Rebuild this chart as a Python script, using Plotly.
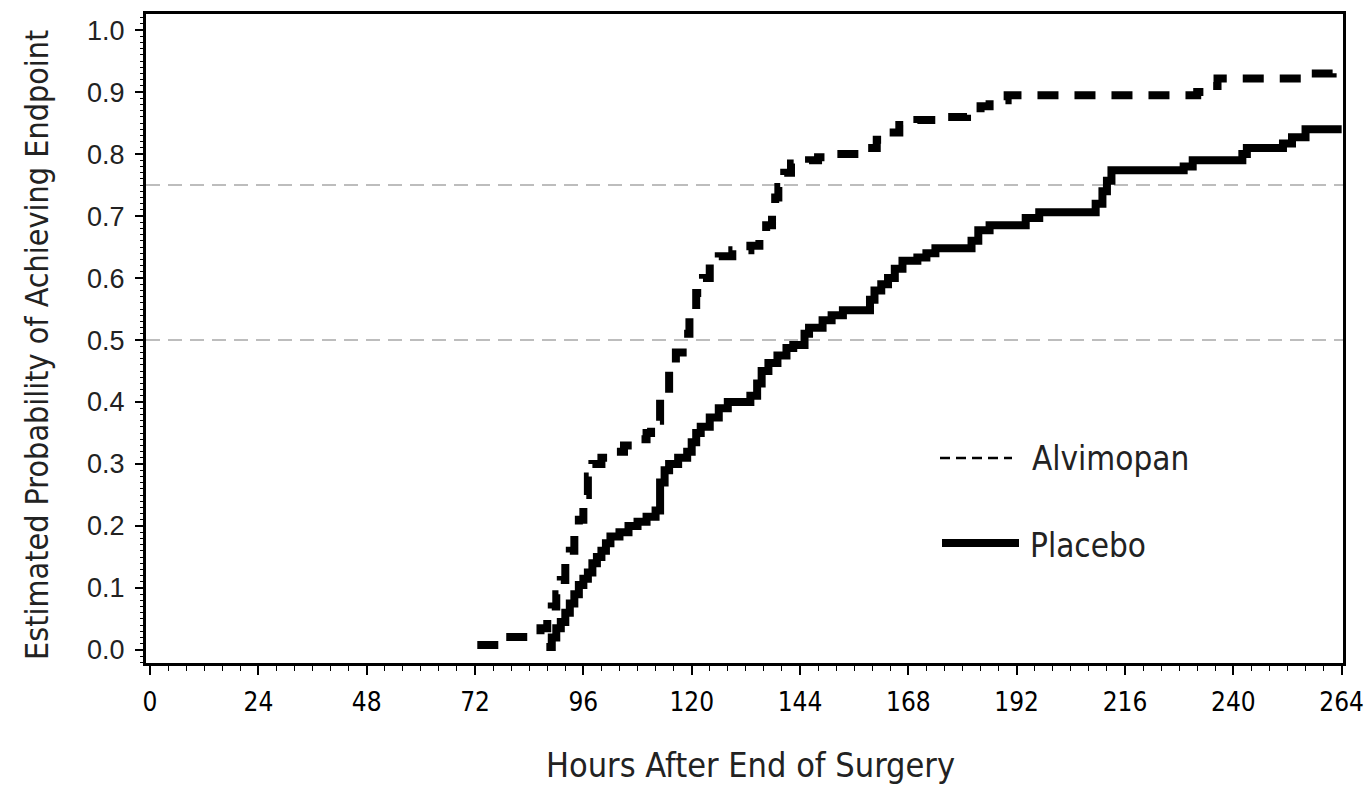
import plotly.graph_objects as go

# Kaplan-Meier style step data (hours after surgery, estimated probability)
alvimopan_hours = [72.5, 78, 86.5, 88, 89, 90, 91, 92, 93, 94, 95, 96, 97, 98, 100, 102, 105, 107,
                   110, 111, 113, 115, 116.5, 118, 119.5, 121, 122.5, 124, 126, 129, 133, 135, 136.5,
                   137.8, 138.5, 139.2, 140.5, 142, 146, 148, 152, 158, 161, 163, 166, 170, 176, 181,
                   184, 186, 190, 232, 234, 236.5, 256, 262, 264]
alvimopan_prob = [0.008, 0.021, 0.035, 0.05, 0.07, 0.09, 0.113, 0.14, 0.16, 0.19, 0.21, 0.25, 0.28,
                  0.30, 0.31, 0.32, 0.33, 0.34, 0.35, 0.37, 0.41, 0.45, 0.48, 0.51, 0.54, 0.576, 0.60,
                  0.624, 0.635, 0.645, 0.652, 0.665, 0.685, 0.705, 0.73, 0.747, 0.77, 0.785, 0.79,
                  0.795, 0.80, 0.81, 0.823, 0.835, 0.847, 0.855, 0.86, 0.866, 0.877, 0.887, 0.895,
                  0.90, 0.91, 0.922, 0.93, 0.935, 0.935]

placebo_hours = [87.8, 89, 90, 91, 92, 93, 94, 95, 96, 97, 98, 99, 100, 101, 102, 104, 106, 108, 110,
                 112, 113, 114, 115, 117, 119, 120, 121, 122, 124, 126, 128, 133, 134.5, 135.5, 137,
                 139, 141, 142.5, 145, 146, 149, 151, 153.5, 159.5, 160.5, 162, 163.5, 165, 166.7,
                 170, 172, 174, 182, 183.5, 186, 194, 197, 209.5, 211, 212, 213, 229, 231, 242, 243,
                 251, 253, 256, 264]
placebo_prob = [0.005, 0.02, 0.035, 0.045, 0.06, 0.075, 0.09, 0.105, 0.115, 0.125, 0.14, 0.15, 0.16,
                0.172, 0.183, 0.19, 0.2, 0.207, 0.215, 0.225, 0.27, 0.29, 0.30, 0.31, 0.32, 0.335,
                0.35, 0.36, 0.375, 0.39, 0.40, 0.41, 0.43, 0.45, 0.463, 0.475, 0.487, 0.492, 0.51,
                0.52, 0.532, 0.54, 0.548, 0.565, 0.58, 0.59, 0.60, 0.615, 0.628, 0.633, 0.64, 0.648,
                0.66, 0.677, 0.685, 0.697, 0.706, 0.72, 0.74, 0.757, 0.774, 0.78, 0.79, 0.80, 0.81,
                0.817, 0.827, 0.84, 0.84]

x_ticks = [0, 24, 48, 72, 96, 120, 144, 168, 192, 216, 240, 264]
y_ticks = [0.0, 0.1, 0.2, 0.3, 0.4, 0.5, 0.6, 0.7, 0.8, 0.9, 1.0]
y_tick_labels = ["0.0", "0.1", "0.2", "0.3", "0.4", "0.5", "0.6", "0.7", "0.8", "0.9", "1.0"]
ref_levels = [0.5, 0.75]
series_names = ["Alvimopan", "Placebo"]
x_title = "Hours After End of Surgery"
y_title = "Estimated Probability of Achieving Endpoint"

NARROW = "DejaVu Sans Condensed, Liberation Sans Narrow, sans-serif"
WIDE = "Liberation Sans, Arial, sans-serif"

# plot-area pixel box
L, R, T, B = 146, 1343, 14, 663
W, H = 1364, 790


def px_to_paper_x(px):
    return (px - L) / (R - L)


def px_to_paper_y(py):
    return (B - py) / (B - T)


fig = go.Figure()

fig.add_trace(go.Scatter(
    x=alvimopan_hours, y=alvimopan_prob, mode="lines", line_shape="hv",
    name=series_names[0], line=dict(color="black", width=8, dash="21px,16px"),
    showlegend=False))
fig.add_trace(go.Scatter(
    x=placebo_hours, y=placebo_prob, mode="lines", line_shape="hv",
    name=series_names[1], line=dict(color="black", width=8),
    showlegend=False))

for lvl in ref_levels:
    fig.add_shape(type="line", xref="paper", x0=0, x1=1, yref="y", y0=lvl, y1=lvl,
                  line=dict(color="#a8a8a8", width=1.5, dash="14px,8px"), layer="below")

# Legend drawn manually
fig.add_shape(type="line", xref="paper", yref="paper",
              x0=px_to_paper_x(940), x1=px_to_paper_x(1012),
              y0=px_to_paper_y(458), y1=px_to_paper_y(458),
              line=dict(color="black", width=2.5, dash="10px,6px"))
fig.add_shape(type="line", xref="paper", yref="paper",
              x0=px_to_paper_x(942), x1=px_to_paper_x(1019),
              y0=px_to_paper_y(543), y1=px_to_paper_y(543),
              line=dict(color="black", width=8))
fig.add_annotation(xref="paper", yref="paper", x=px_to_paper_x(1030), y=px_to_paper_y(458),
                   text=series_names[0], showarrow=False, xanchor="left", yanchor="middle",
                   font=dict(family=NARROW, size=33, color="#222"))
fig.add_annotation(xref="paper", yref="paper", x=px_to_paper_x(1028), y=px_to_paper_y(545),
                   text=series_names[1], showarrow=False, xanchor="left", yanchor="middle",
                   font=dict(family=NARROW, size=33, color="#222"))

# Axis titles
fig.add_annotation(xref="paper", yref="paper", x=px_to_paper_x(750), y=px_to_paper_y(765),
                   text=x_title, showarrow=False, xanchor="center", yanchor="middle",
                   font=dict(family=NARROW, size=34, color="#222"))
fig.add_annotation(xref="paper", yref="paper", x=px_to_paper_x(37), y=px_to_paper_y(345),
                   text=y_title, showarrow=False, xanchor="center", yanchor="middle",
                   textangle=-90, font=dict(family=NARROW, size=32, color="#222"))

fig.update_layout(
    width=W, height=H,
    margin=dict(l=L, r=W - R, t=T, b=H - B, autoexpand=False),
    plot_bgcolor="white", paper_bgcolor="white",
    showlegend=False,
)

fig.update_xaxes(
    range=[-0.9, 264.3], tickvals=x_ticks, ticktext=[str(v) for v in x_ticks],
    showgrid=False, zeroline=False, automargin=False,
    showline=True, linecolor="black", linewidth=3, mirror=True,
    ticks="outside", ticklen=9, tickwidth=1.5, tickcolor="black",
    minor=dict(dtick=4, tick0=0, ticks="outside", ticklen=5, tickwidth=1, tickcolor="black", showgrid=False),
    tickfont=dict(family=NARROW, size=26, color="black"),
    ticklabelstandoff=5,
)
fig.update_yaxes(
    range=[-0.021, 1.026], tickvals=y_ticks, ticktext=y_tick_labels,
    showgrid=False, zeroline=False, automargin=False,
    showline=True, linecolor="black", linewidth=3, mirror=True,
    ticks="outside", ticklen=8, tickwidth=1.5, tickcolor="black",
    minor=dict(dtick=0.01, tick0=0, ticks="outside", ticklen=3, tickwidth=1, tickcolor="black", showgrid=False),
    tickfont=dict(family=WIDE, size=27, color="#222"),
    ticklabelstandoff=5,
)

fig.write_html("out.html", config={"displayModeBar": False},
               post_script="document.body.style.margin='0';")
